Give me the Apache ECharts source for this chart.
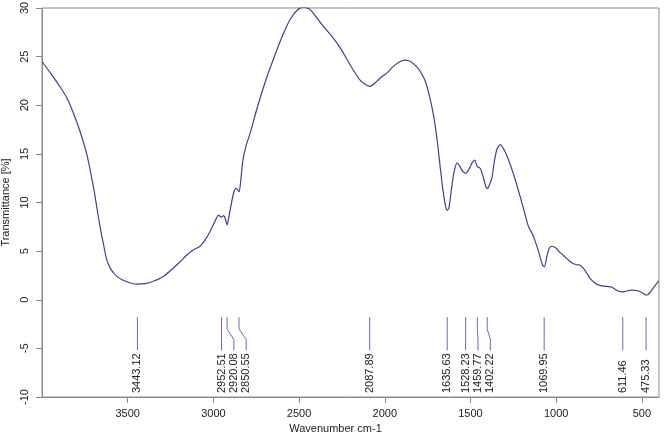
<!DOCTYPE html>
<html>
<head>
<meta charset="utf-8">
<title>FTIR spectrum</title>
<script src="https://cdn.jsdelivr.net/npm/echarts@6/dist/echarts.min.js"></script>
<style>
  html, body { margin: 0; padding: 0; background: #fff; }
  #chart { width: 669px; height: 438px; }
</style>
</head>
<body>
<div id="chart"></div>
<script>
// spectrum (wavenumber cm-1 / transmittance %)
var wavenumbers = [4000, 3950, 3895, 3850, 3817, 3780, 3739, 3700, 3680, 3661, 3640, 3622, 3600, 3564, 3520, 3480, 3443, 3400, 3350, 3292,
  3250, 3200, 3155, 3120, 3078, 3050, 3020, 2990, 2970, 2955, 2940, 2930, 2920, 2905, 2883, 2868, 2858, 2850, 2840, 2828,
  2810, 2786, 2740, 2688, 2640, 2591, 2550, 2510, 2474, 2440, 2416, 2380, 2338, 2300, 2260, 2220, 2183, 2140, 2100, 2085,
  2050, 2020, 1988, 1950, 1910, 1881, 1850, 1813, 1790, 1764, 1740, 1716, 1695, 1677, 1660, 1645, 1635, 1625, 1610, 1595,
  1579, 1565, 1545, 1528, 1510, 1490, 1476, 1465, 1460, 1443, 1425, 1410, 1400, 1388, 1375, 1360, 1345, 1326, 1300, 1278,
  1245, 1210, 1185, 1161, 1140, 1122, 1100, 1080, 1068, 1055, 1040, 1025, 1000, 980, 957, 930, 905, 880, 859, 840,
  820, 800, 772, 750, 723, 690, 674, 650, 630, 616, 590, 560, 530, 500, 480, 470, 450, 430, 402];
var transmittance = [24.5, 23.3, 21.9, 20.6, 19.2, 17.4, 15.0, 11.6, 9.5, 7.5, 5.6, 4.1, 3.2, 2.4, 1.95, 1.7, 1.6, 1.65, 1.9, 2.4,
  3.0, 3.8, 4.6, 5.1, 5.5, 6.1, 7.0, 8.1, 8.7, 8.5, 8.65, 8.3, 7.7, 9.0, 10.9, 11.45, 11.3, 11.1, 12.3, 14.3,
  15.8, 17.1, 20.0, 22.9, 25.2, 27.4, 28.9, 29.8, 30.1, 29.9, 29.45, 28.6, 27.7, 26.9, 25.9, 24.7, 23.6, 22.5, 22.0, 21.95,
  22.4, 22.9, 23.3, 24.0, 24.5, 24.65, 24.5, 23.95, 23.4, 22.5, 21.0, 19.0, 16.5, 13.7, 11.2, 9.6, 9.2, 9.5, 11.5, 13.2,
  14.05, 13.8, 13.2, 13.0, 13.4, 14.1, 14.35, 13.9, 13.7, 13.5, 12.6, 11.6, 11.45, 11.9, 12.5, 14.3, 15.5, 15.95, 15.3, 14.4,
  12.7, 10.6, 9.0, 7.5, 6.8, 6.0, 4.8, 3.6, 3.4, 4.4, 5.3, 5.5, 5.3, 4.9, 4.55, 4.1, 3.75, 3.6, 3.55, 3.2,
  2.7, 2.15, 1.7, 1.5, 1.4, 1.35, 1.28, 1.0, 0.85, 0.8, 0.9, 1.0, 0.95, 0.75, 0.5, 0.49, 0.8, 1.3, 1.95];

// labelled peaks
var peaks = [3443.12, 2952.51, 2920.08, 2850.55, 2087.89, 1635.63, 1528.23, 1459.77, 1402.22, 1069.95, 611.46, 475.33];

var xTicks = [500, 1000, 1500, 2000, 2500, 3000, 3500];

// push labels apart so they don't overlap (peaks are in descending order)
var minGap = 72;
var labelPos = [];
peaks.forEach(function (p, i) {
  var q = p;
  if (i > 0 && labelPos[i - 1] - q < minGap) q = labelPos[i - 1] - minGap;
  labelPos.push(q);
});

var font = 'Liberation Sans, Arial, sans-serif';
var axisGrey = '#8a8a8a';

var chart = echarts.init(document.getElementById('chart'));

var option = {
  animation: false,
  backgroundColor: '#fff',
  grid: {
    left: 42, right: 10, top: 8, bottom: 41,
    outerBoundsMode: 'none',
    show: true, borderColor: axisGrey, borderWidth: 1
  },
  xAxis: {
    type: 'value',
    inverse: true,
    min: 400,
    max: 4000,
    name: 'Wavenumber cm-1',
    nameLocation: 'middle',
    nameGap: 26,
    nameTextStyle: { fontFamily: font, fontSize: 11, color: '#222', padding: [0, 30, 0, 0] },
    splitLine: { show: false },
    axisLine: { onZero: false, lineStyle: { color: axisGrey } },
    axisTick: { length: 6, customValues: xTicks, lineStyle: { color: axisGrey } },
    axisLabel: {
      customValues: xTicks, fontFamily: font, fontSize: 11, color: '#222', margin: 11,
      formatter: function (v) { return String(v); }
    }
  },
  yAxis: {
    type: 'value',
    min: -10,
    max: 30,
    interval: 5,
    name: 'Transmittance [%]',
    nameLocation: 'middle',
    nameGap: 26,
    nameTextStyle: { fontFamily: font, fontSize: 11, color: '#222' },
    splitLine: { show: false },
    axisLine: { onZero: false, lineStyle: { color: axisGrey } },
    axisTick: { length: 6, lineStyle: { color: axisGrey } },
    axisLabel: { rotate: 90, fontFamily: font, fontSize: 11, color: '#222', margin: 12 }
  },
  series: [
    {
      type: 'line',
      data: wavenumbers.map(function (w, i) { return [w, transmittance[i]]; }),
      showSymbol: false,
      smooth: 0.25,
      lineStyle: { color: '#40408e', width: 1.2 },
      z: 3
    },
    {
      type: 'custom',
      data: peaks.map(function (p, i) { return [p, labelPos[i]]; }),
      encode: { x: 0 },
      clip: false,
      renderItem: function (params, api) {
        var p = api.value(0), q = api.value(1);
        var pts = [
          api.coord([p, -1.8]),
          api.coord([p, -3.0]),
          api.coord([q, -4.1]),
          api.coord([q, -5.2])
        ];
        var t = api.coord([q, -9.6]);
        return {
          type: 'group',
          children: [
            {
              type: 'polyline',
              shape: { points: pts },
              style: { stroke: '#6a6ab4', lineWidth: 1, fill: null }
            },
            {
              type: 'text',
              x: t[0], y: t[1],
              rotation: Math.PI / 2,
              style: {
                text: p.toFixed(2),
                fontFamily: font, fontSize: 11, fill: '#222',
                align: 'left', verticalAlign: 'middle'
              }
            }
          ]
        };
      },
      z: 4
    }
  ]
};

chart.setOption(option);
</script>
</body>
</html>
